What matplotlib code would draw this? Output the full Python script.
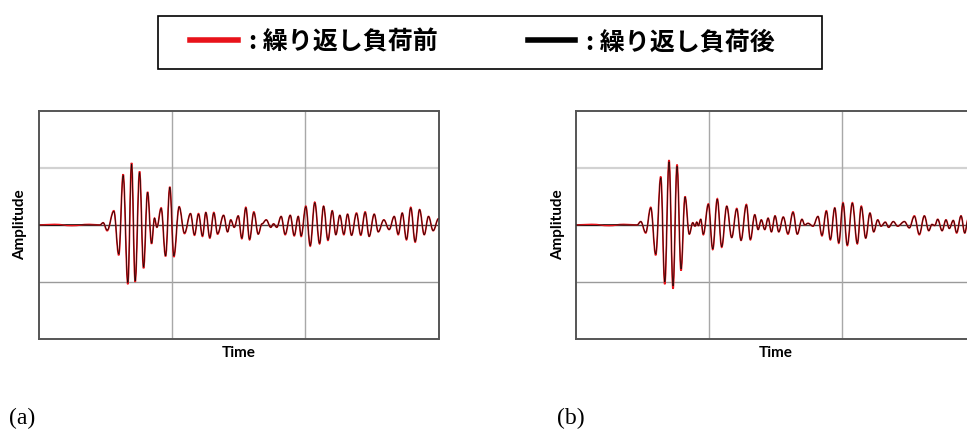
"""Waveforms before / after cyclic loading, two panels (a) and (b)."""

from __future__ import annotations

import matplotlib

matplotlib.use("Agg")
import matplotlib.pyplot as plt
from matplotlib.lines import Line2D
from matplotlib.patches import PathPatch, Rectangle
from matplotlib.path import Path

plt.rcParams["font.family"] = ["Lato", "DejaVu Sans"]

LEGEND_LABELS = [": 繰り返し負荷前", ": 繰り返し負荷後"]
PANEL_TAGS = ["(a)", "(b)"]

# panel (a): time in grid units (0..3), amplitude in grid units (-2..2)
T_A = [
    0.000, 0.120, 0.250, 0.380, 0.460, 0.485, 0.515, 0.565, 0.602, 0.635,
    0.670, 0.698, 0.725, 0.758, 0.788, 0.818, 0.848, 0.870, 0.888, 0.920,
    0.953, 0.985, 1.015, 1.055, 1.095, 1.140, 1.170, 1.200, 1.230, 1.255,
    1.285, 1.315, 1.343, 1.388, 1.418, 1.442, 1.468, 1.498, 1.525, 1.555,
    1.583, 1.615, 1.648, 1.676, 1.708, 1.742, 1.763, 1.787, 1.820, 1.850,
    1.888, 1.918, 1.948, 1.970, 2.005, 2.038, 2.072, 2.108, 2.138, 2.171,
    2.203, 2.230, 2.260, 2.290, 2.318, 2.348, 2.385, 2.417, 2.450, 2.480,
    2.518, 2.548, 2.590, 2.630, 2.668, 2.698, 2.728, 2.760, 2.792, 2.825,
    2.858, 2.893, 2.925, 2.960, 3.000,
]
BEFORE_A = [
    0.00, 0.01, -0.01, 0.01, 0.00, 0.04, -0.10, 0.25, -0.53, 0.89,
    -1.04, 1.09, -1.00, 0.94, -0.76, 0.58, -0.33, 0.12, -0.04, 0.30,
    -0.55, 0.67, -0.56, 0.32, -0.15, 0.20, -0.18, 0.20, -0.20, 0.22,
    -0.23, 0.22, -0.16, 0.17, -0.12, 0.09, -0.04, 0.16, -0.24, 0.31,
    -0.26, 0.23, -0.16, 0.02, 0.09, -0.04, 0.02, -0.04, 0.15, -0.17,
    0.17, -0.19, 0.15, -0.20, 0.33, -0.37, 0.40, -0.33, 0.33, -0.27,
    0.25, -0.17, 0.17, -0.17, 0.19, -0.18, 0.21, -0.18, 0.23, -0.20,
    0.19, -0.12, 0.09, -0.08, 0.15, -0.17, 0.21, -0.26, 0.31, -0.30,
    0.27, -0.17, 0.15, -0.10, 0.11,
]
AFTER_A = [
    0.00, -0.01, 0.01, 0.00, 0.00, 0.04, -0.09, 0.24, -0.51, 0.87,
    -1.01, 1.07, -0.98, 0.92, -0.74, 0.57, -0.32, 0.12, -0.04, 0.29,
    -0.54, 0.66, -0.54, 0.32, -0.14, 0.20, -0.17, 0.19, -0.19, 0.22,
    -0.22, 0.21, -0.15, 0.17, -0.12, 0.09, -0.04, 0.16, -0.23, 0.30,
    -0.25, 0.22, -0.16, 0.02, 0.09, -0.04, 0.02, -0.04, 0.15, -0.16,
    0.17, -0.18, 0.15, -0.19, 0.32, -0.36, 0.39, -0.32, 0.33, -0.26,
    0.25, -0.17, 0.17, -0.16, 0.19, -0.18, 0.20, -0.17, 0.22, -0.20,
    0.19, -0.12, 0.09, -0.08, 0.15, -0.16, 0.21, -0.25, 0.30, -0.29,
    0.27, -0.17, 0.15, -0.10, 0.11,
]

# panel (b)
T_B = [
    0.000, 0.120, 0.250, 0.360, 0.460, 0.488, 0.525, 0.563, 0.600, 0.638,
    0.668, 0.700, 0.730, 0.760, 0.790, 0.820, 0.852, 0.878, 0.895, 0.908,
    0.920, 0.938, 0.957, 0.995, 1.028, 1.062, 1.095, 1.133, 1.170, 1.208,
    1.240, 1.280, 1.310, 1.343, 1.368, 1.392, 1.418, 1.443, 1.468, 1.495,
    1.523, 1.557, 1.592, 1.630, 1.662, 1.697, 1.718, 1.742, 1.780, 1.817,
    1.847, 1.880, 1.910, 1.943, 1.973, 2.005, 2.037, 2.075, 2.112, 2.142,
    2.175, 2.207, 2.235, 2.265, 2.290, 2.322, 2.347, 2.382, 2.415, 2.465,
    2.502, 2.540, 2.577, 2.615, 2.648, 2.672, 2.693, 2.715, 2.748, 2.777,
    2.802, 2.832, 2.857, 2.890, 2.918, 2.943, 2.973, 3.000,
]
BEFORE_B = [
    0.00, 0.01, -0.01, 0.01, 0.00, 0.06, -0.14, 0.31, -0.53, 0.85,
    -1.04, 1.14, -1.12, 1.06, -0.80, 0.50, -0.16, 0.04, -0.02, 0.05,
    -0.01, 0.10, -0.17, 0.37, -0.43, 0.46, -0.39, 0.33, -0.22, 0.29,
    -0.27, 0.36, -0.26, 0.18, -0.08, 0.09, -0.08, 0.12, -0.12, 0.16,
    -0.12, 0.14, -0.16, 0.23, -0.16, 0.10, 0.00, 0.03, -0.02, 0.15,
    -0.19, 0.25, -0.26, 0.30, -0.32, 0.39, -0.36, 0.39, -0.33, 0.33,
    -0.23, 0.21, -0.12, 0.09, -0.02, 0.05, -0.04, 0.06, -0.02, 0.06,
    -0.05, 0.16, -0.17, 0.16, -0.10, 0.01, -0.01, 0.10, -0.10, 0.09,
    -0.06, 0.08, -0.14, 0.16, -0.14, 0.10, -0.05, 0.03,
]
AFTER_B = [
    0.00, -0.01, 0.01, 0.00, 0.00, 0.06, -0.13, 0.30, -0.51, 0.83,
    -1.00, 1.11, -1.07, 1.03, -0.77, 0.49, -0.16, 0.04, -0.02, 0.05,
    -0.01, 0.10, -0.16, 0.36, -0.42, 0.45, -0.38, 0.33, -0.22, 0.28,
    -0.27, 0.35, -0.25, 0.18, -0.08, 0.09, -0.08, 0.12, -0.12, 0.16,
    -0.12, 0.14, -0.15, 0.22, -0.16, 0.10, 0.00, 0.03, -0.02, 0.15,
    -0.18, 0.24, -0.25, 0.30, -0.31, 0.38, -0.35, 0.38, -0.32, 0.32,
    -0.23, 0.21, -0.12, 0.09, -0.02, 0.05, -0.04, 0.06, -0.02, 0.06,
    -0.05, 0.15, -0.16, 0.16, -0.10, 0.01, -0.01, 0.10, -0.10, 0.09,
    -0.06, 0.08, -0.13, 0.16, -0.14, 0.10, -0.05, 0.03,
]

W, H = 967, 434
RED = "#e8131a"


def wave_path(t, y, k=0.38):
    # peaks are joined by cubic curves with flat tangents, so the trace has round crests
    verts = [(t[0], y[0])]
    codes = [Path.MOVETO]
    for i in range(1, len(t)):
        dt = t[i] - t[i - 1]
        verts += [(t[i - 1] + k * dt, y[i - 1]), (t[i] - k * dt, y[i]), (t[i], y[i])]
        codes += [Path.CURVE4] * 3
    return Path(verts, codes)


def draw_panel(fig, left_px, t, before, after, tag, tag_x_px):
    ax = fig.add_axes([left_px / W, (H - 339) / H, 400 / W, 228 / H])
    ax.set_xlim(0, 3)
    ax.set_ylim(-2, 2)
    ax.set_xticks([])
    ax.set_yticks([])
    ax.axhline(1, color="#d2d2d2", lw=1.6, zorder=0)
    ax.axhline(-1, color="#9a9a9a", lw=1.0, zorder=0)
    for xv in (1, 2):
        ax.axvline(xv, color="#a8a8a8", lw=1.0, zorder=0)
    ax.axhline(0, color="#404040", lw=1.0, zorder=1)
    ax.add_patch(PathPatch(wave_path(t, before), facecolor="none", edgecolor=RED, lw=1.2, zorder=2))
    ax.add_patch(PathPatch(wave_path(t, after), facecolor="none", edgecolor="#1a0a0a", lw=0.55, zorder=3))
    for side in ax.spines.values():
        side.set_color("#555555")
        side.set_linewidth(1.4)
    ax.set_xlabel("Time", fontsize=11, fontweight="bold", labelpad=5)
    ax.set_ylabel("Amplitude", fontsize=11, fontweight="bold", labelpad=8)
    fig.text(tag_x_px / W, (H - 418) / H, tag, fontsize=17,
             family="Liberation Serif", va="center", ha="left")
    return ax


def main() -> None:
    fig = plt.figure(figsize=(W / 100, H / 100), dpi=100)
    draw_panel(fig, 38.5, T_A, BEFORE_A, AFTER_A, PANEL_TAGS[0], 9)
    draw_panel(fig, 575.7, T_B, BEFORE_B, AFTER_B, PANEL_TAGS[1], 557)

    handles = [
        Line2D([], [], color=RED, lw=4),
        Line2D([], [], color="black", lw=4),
    ]
    fig.legend(
        handles, LEGEND_LABELS, loc="center left", ncol=2,
        bbox_to_anchor=(190 / W, 1 - 42 / H),
        prop={"family": ["Noto Sans CJK JP", "DejaVu Sans"], "size": 18, "weight": "bold"},
        frameon=False, handlelength=1.9, handletextpad=0.45, columnspacing=3.6,
        borderpad=0, borderaxespad=0,
    )
    fig.patches.append(Rectangle((158 / W, 1 - 69 / H), 664 / W, 53 / H, transform=fig.transFigure,
                                 facecolor="none", edgecolor="black", lw=1.2))

    fig.savefig("out.png", dpi=100)
    plt.close(fig)


if __name__ == "__main__":
    main()
